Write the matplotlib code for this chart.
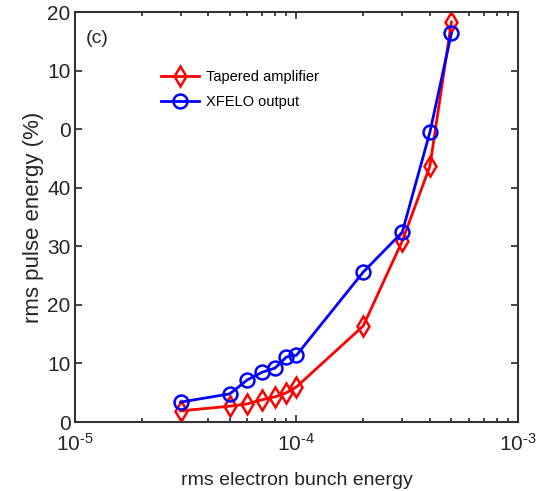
import numpy as np
import matplotlib
matplotlib.use('Agg')
import matplotlib.pyplot as plt
from matplotlib.ticker import FixedLocator, LogLocator, NullFormatter

plt.rcParams['font.family'] = ['Liberation Sans', 'DejaVu Sans']
plt.rcParams['mathtext.fontset'] = 'custom'
plt.rcParams['mathtext.rm'] = 'Liberation Sans'
plt.rcParams['mathtext.it'] = 'Liberation Sans:italic'
plt.rcParams['axes.unicode_minus'] = False

# data
sigma_e = [3e-5, 5e-5, 6e-5, 7e-5, 8e-5, 9e-5, 1e-4, 2e-4, 3e-4, 4e-4, 5e-4]
tapered = [1.9, 2.7, 3.1, 3.8, 4.3, 5.0, 6.0, 16.4, 30.9, 43.7, 68.3]
xfelo = [3.4, 4.8, 7.2, 8.5, 9.2, 11.1, 11.4, 25.6, 32.4, 49.5, 66.4]

ytick_vals = [0, 10, 20, 30, 40, 50, 60, 70]
ytick_labels = ['0', '10', '20', '30', '40', '0', '10', '20']
xtick_vals = [1e-5, 1e-4, 1e-3]
xtick_labels = [r'$10^{\text{-5}}$', r'$10^{\text{-4}}$', r'$10^{\text{-3}}$']

txt = '#262626'
fig = plt.figure(figsize=(5.42, 4.91), dpi=100)
ax = fig.add_axes([0.138, 0.1405, 0.818, 0.835])

ax.plot(sigma_e, tapered, color='red', lw=2, marker='d', ms=10, mfc='none',
        mew=1.8, label='Tapered amplifier')
ax.plot(sigma_e, xfelo, color='blue', lw=2, marker='o', ms=10, mfc='none',
        mew=1.8, label='XFELO output')

ax.set_xscale('log')
ax.set_xlim(1e-5, 1e-3)
ax.set_ylim(0, 70)
ax.yaxis.set_major_locator(FixedLocator(ytick_vals))
ax.set_yticklabels(ytick_labels)
ax.xaxis.set_major_locator(FixedLocator(xtick_vals))
ax.set_xticklabels(xtick_labels)
ax.xaxis.set_minor_locator(LogLocator(base=10, subs=np.arange(2, 10), numticks=20))
ax.xaxis.set_minor_formatter(NullFormatter())

ax.tick_params(which='both', direction='in', top=True, right=True,
               labelsize=15, colors=txt, width=1.2)
ax.tick_params(which='major', length=5)
ax.tick_params(axis='y', pad=3)
ax.tick_params(axis='x', pad=8)
ax.tick_params(which='minor', length=3)
for s in ax.spines.values():
    s.set_linewidth(1.5)
    s.set_color('#333333')

ax.set_xlabel('rms electron bunch energy', fontsize=14, color=txt, labelpad=12)
ax.set_ylabel('rms pulse energy (%)', fontsize=16, color=txt, labelpad=2)
ax.text(0.025, 0.955, '(c)', transform=ax.transAxes, fontsize=14, color=txt,
        va='top', ha='left')

leg = ax.legend(loc='upper left', bbox_to_anchor=(0.165, 0.89), frameon=False,
                fontsize=10.5, handlelength=2.6, handletextpad=0.5,
                labelspacing=0.75)
for t in leg.get_texts():
    t.set_color('black')

fig.savefig('out.png', dpi=100)
